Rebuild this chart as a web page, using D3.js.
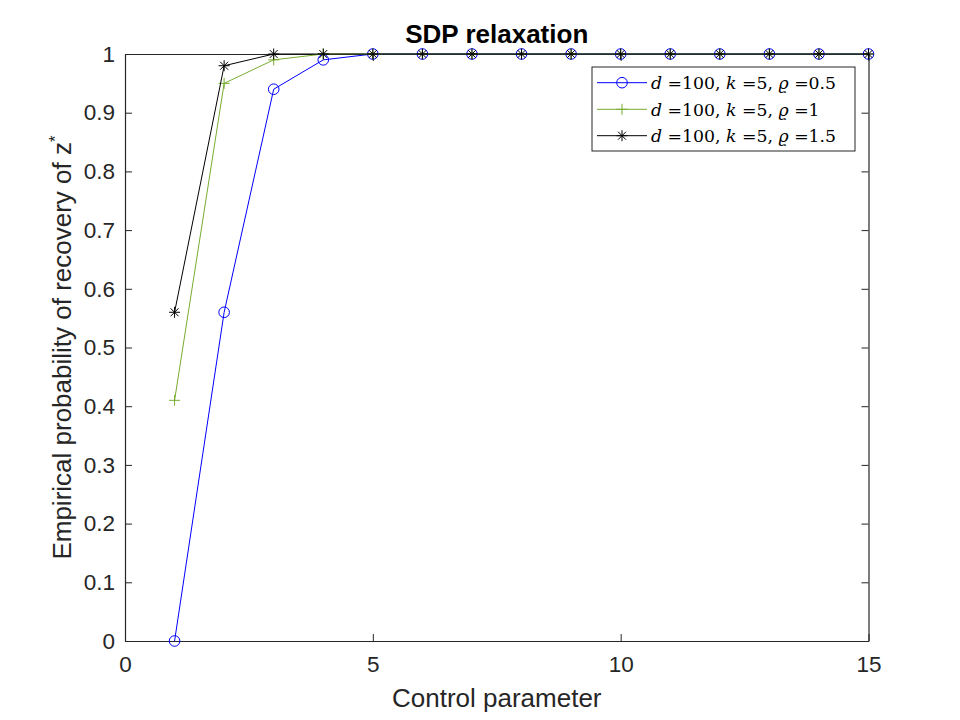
<!DOCTYPE html>
<html lang="en">
<head>
<meta charset="utf-8">
<title>SDP relaxation</title>
<script src="https://d3js.org/d3.v7.min.js"></script>
<style>
  body { margin: 0; background: #fff; }
  .tick text { font-family: "Liberation Sans", Arial, sans-serif; font-size: 22.5px; fill: #262626; }
  .tick line { stroke: #262626; }
  .domain { stroke: #262626; }
  .label { font-family: "Liberation Sans", Arial, sans-serif; font-size: 26px; fill: #262626; }
  .title { font-family: "Liberation Sans", Arial, sans-serif; font-size: 26px; font-weight: bold; fill: #000; }
  .leg { font-family: "DejaVu Serif", "Liberation Serif", serif; font-size: 17.3px; fill: #000; }
</style>
</head>
<body>
<div id="vis"></div>
<script>
// data
const params = [1, 2, 3, 4, 5, 6, 7, 8, 9, 10, 11, 12, 13, 14, 15];
const rho05 = [0, 0.56, 0.94, 0.99, 1, 1, 1, 1, 1, 1, 1, 1, 1, 1, 1];
const rho1 = [0.41, 0.95, 0.99, 1, 1, 1, 1, 1, 1, 1, 1, 1, 1, 1, 1];
const rho15 = [0.56, 0.98, 1, 1, 1, 1, 1, 1, 1, 1, 1, 1, 1, 1, 1];
const xTicks = [0, 5, 10, 15];
const yTicks = [0, 0.1, 0.2, 0.3, 0.4, 0.5, 0.6, 0.7, 0.8, 0.9, 1];
const seriesNames = ["0.5", "1", "1.5"];

const width = 960, height = 720;
const axLeft = 125, axRight = 868.5, axTop = 54, axBottom = 641;

const series = [
  { name: seriesNames[0], values: rho05, color: "#0000ff", marker: "circle" },
  { name: seriesNames[1], values: rho1, color: "#77ac30", marker: "plus" },
  { name: seriesNames[2], values: rho15, color: "#000000", marker: "star" }
];

const xScale = d3.scaleLinear().domain([0, 15]).range([axLeft, axRight]);
const yScale = d3.scaleLinear().domain([0, 1]).range([axBottom, axTop]);

const svg = d3.select("#vis").append("svg")
  .attr("width", width)
  .attr("height", height);

function markerPath(type, x, y) {
  const s = 5.5;
  if (type === "circle") {
    const r = 5.3;
    return `M${x - r},${y}a${r},${r} 0 1,0 ${2 * r},0a${r},${r} 0 1,0 ${-2 * r},0`;
  }
  if (type === "plus") {
    return `M${x - s},${y}H${x + s}M${x},${y - s}V${y + s}`;
  }
  const d = s * 0.72;
  return `M${x - s},${y}H${x + s}M${x},${y - s}V${y + s}` +
         `M${x - d},${y - d}L${x + d},${y + d}M${x - d},${y + d}L${x + d},${y - d}`;
}

// axes (ticks point inward, box on)
svg.append("g")
  .attr("transform", `translate(0,${axBottom})`)
  .call(d3.axisBottom(xScale).tickValues(xTicks).tickSizeInner(-7).tickSizeOuter(0).tickPadding(15).tickFormat(d3.format("d")))
  .call(g => g.selectAll(".tick text").attr("dy", "0.71em"));

svg.append("g")
  .attr("transform", `translate(0,${axTop})`)
  .call(d3.axisTop(xScale).tickValues(xTicks).tickSizeInner(-7).tickSizeOuter(0).tickFormat(""));

svg.append("g")
  .attr("transform", `translate(${axLeft},0)`)
  .call(d3.axisLeft(yScale).tickValues(yTicks).tickSizeInner(-7).tickSizeOuter(0).tickPadding(10).tickFormat(d => d3.format("")(+d.toFixed(1))));

svg.append("g")
  .attr("transform", `translate(${axRight},0)`)
  .call(d3.axisRight(yScale).tickValues(yTicks).tickSizeInner(-7).tickSizeOuter(0).tickFormat(""));

svg.selectAll(".domain").attr("stroke-width", 1.2);

// lines and markers
const line = d3.line()
  .x((d, i) => xScale(params[i]))
  .y(d => yScale(d));

series.forEach(s => {
  svg.append("path")
    .datum(s.values)
    .attr("fill", "none")
    .attr("stroke", s.color)
    .attr("stroke-width", 1)
    .attr("d", line);

  svg.append("g").selectAll("path")
    .data(s.values)
    .enter()
    .append("path")
    .attr("fill", "none")
    .attr("stroke", s.color)
    .attr("stroke-width", 1)
    .attr("d", (d, i) => markerPath(s.marker, xScale(params[i]), yScale(d)));
});

// title and labels
svg.append("text")
  .attr("class", "title")
  .attr("x", (axLeft + axRight) / 2)
  .attr("y", 43)
  .attr("text-anchor", "middle")
  .text("SDP relaxation");

svg.append("text")
  .attr("class", "label")
  .attr("x", (axLeft + axRight) / 2)
  .attr("y", 707)
  .attr("text-anchor", "middle")
  .text("Control parameter");

const yl = svg.append("text")
  .attr("class", "label")
  .attr("transform", `translate(71,${(axTop + axBottom) / 2}) rotate(-90)`)
  .attr("text-anchor", "middle");
yl.append("tspan").text("Empirical probability of recovery of z");
yl.append("tspan").attr("dy", -10).attr("font-size", 17).text("*");

// legend
const legX = 592, legY = 67, legW = 263, legH = 84;
const leg = svg.append("g");
leg.append("rect")
  .attr("x", legX).attr("y", legY)
  .attr("width", legW).attr("height", legH)
  .attr("fill", "#fff")
  .attr("stroke", "#262626")
  .attr("stroke-width", 1);

const rowY = [82.7, 109.3, 135.7];
series.forEach((s, i) => {
  const y = rowY[i];
  leg.append("line")
    .attr("x1", 597).attr("x2", 647)
    .attr("y1", y).attr("y2", y)
    .attr("stroke", s.color).attr("stroke-width", 1);
  leg.append("path")
    .attr("fill", "none").attr("stroke", s.color).attr("stroke-width", 1)
    .attr("d", markerPath(s.marker, 622, y));
  const t = leg.append("text")
    .attr("class", "leg")
    .attr("x", 651)
    .attr("y", y + 6.3);
  t.append("tspan").attr("font-style", "italic").text("d");
  t.append("tspan").text(" =100, ");
  t.append("tspan").attr("font-style", "italic").text("k");
  t.append("tspan").text(" =5, ");
  t.append("tspan").attr("font-style", "italic").text("\u03f1");
  t.append("tspan").text(" =" + s.name);
});
</script>
</body>
</html>
